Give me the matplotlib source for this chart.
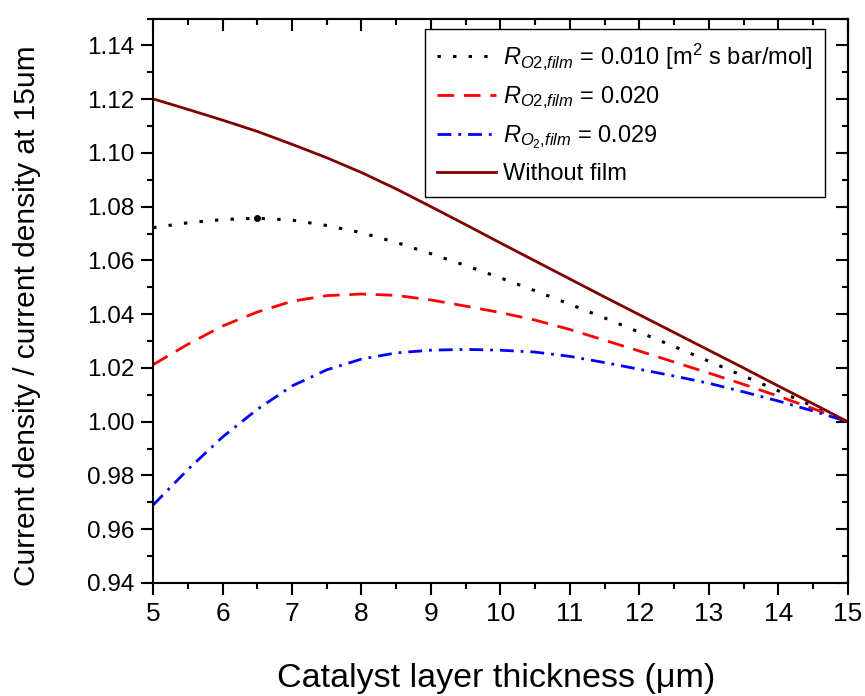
import matplotlib
matplotlib.use('Agg')
import matplotlib.pyplot as plt
from matplotlib.ticker import MultipleLocator, FormatStrFormatter

plt.rcParams['font.family'] = ['Liberation Sans', 'DejaVu Sans']
plt.rcParams['mathtext.fontset'] = 'custom'
plt.rcParams['mathtext.rm'] = 'Liberation Sans'
plt.rcParams['mathtext.it'] = 'Liberation Sans:italic'

# catalyst layer thickness (um)
thickness = [5, 5.5, 6, 6.5, 7, 7.5, 8, 8.5, 9, 9.5, 10,
             10.5, 11, 11.5, 12, 12.5, 13, 13.5, 14, 14.5, 15]

# current density normalised by the value at 15 um
r_010 = [1.0722, 1.0740, 1.0752, 1.0757, 1.0750, 1.0730, 1.0703, 1.0667, 1.0625, 1.0581, 1.0535,
         1.0487, 1.0437, 1.0386, 1.0333, 1.0280, 1.0225, 1.0170, 1.0115, 1.0058, 1.0000]
r_020 = [1.0212, 1.0288, 1.0356, 1.0408, 1.0448, 1.0469, 1.0475, 1.0470, 1.0453, 1.0430, 1.0406,
         1.0378, 1.0343, 1.0303, 1.0263, 1.0222, 1.0181, 1.0139, 1.0095, 1.0049, 1.0000]
r_029 = [0.9690, 0.9822, 0.9943, 1.0046, 1.0133, 1.0193, 1.0233, 1.0256, 1.0266, 1.0269, 1.0266,
         1.0259, 1.0243, 1.0220, 1.0195, 1.0170, 1.0143, 1.0111, 1.0077, 1.0040, 1.0000]
no_film = [1.1201, 1.1162, 1.1122, 1.1080, 1.1032, 1.0982, 1.0927, 1.0866, 1.0800, 1.0733, 1.0665,
           1.0598, 1.0531, 1.0464, 1.0398, 1.0332, 1.0266, 1.0200, 1.0133, 1.0067, 1.0000]

labels = [r'$R_{\mathit{O2{,}film}}$ = 0.010 [m$^2$ s bar/mol]',
          r'$R_{\mathit{O2{,}film}}$ = 0.020',
          r'$R_{\mathit{O_2{,}film}}$ = 0.029',
          'Without film']

fig = plt.figure(figsize=(8.65, 6.96), dpi=100)
ax = fig.add_axes([0.177, 0.1624, 0.803, 0.811])

ax.plot(thickness, r_010, color='black', lw=2.2, linestyle=(0, (1.1, 4.0)), label=labels[0])
ax.plot(thickness[3], r_010[3], 'o', color='black', ms=4)
ax.plot(thickness, r_020, color='red', lw=2.0, linestyle=(0, (6, 3.5)), label=labels[1])
ax.plot(thickness, r_029, color='blue', lw=2.0, linestyle=(0, (5, 2.5, 1, 2.5)), label=labels[2])
ax.plot(thickness, no_film, color='#800000', lw=2.0, label=labels[3])

ax.set_xlim(5, 15)
ax.set_ylim(0.94, 1.15)
ax.set_xticks(range(5, 16))
ax.set_yticks([0.94, 0.96, 0.98, 1.00, 1.02, 1.04, 1.06, 1.08, 1.10, 1.12, 1.14])
ax.xaxis.set_minor_locator(MultipleLocator(0.5))
ax.yaxis.set_minor_locator(MultipleLocator(0.01))
ax.yaxis.set_major_formatter(FormatStrFormatter('%.2f'))

for sp in ax.spines.values():
    sp.set_linewidth(1.5)

ax.tick_params(which='major', direction='out', length=8.5, width=1.5, pad=5)
ax.tick_params(which='minor', direction='out', length=4.5, width=1.5)
ax.tick_params(axis='x', labelsize=19)
ax.tick_params(axis='y', labelsize=17.5)

# inward ticks on the top and right edges
top = ax.secondary_xaxis('top')
top.set_xticks(range(5, 16))
top.xaxis.set_minor_locator(MultipleLocator(0.5))
top.tick_params(which='major', direction='in', length=8.5, width=1.5, labeltop=False)
top.tick_params(which='minor', direction='in', length=4.5, width=1.5)
top.spines['top'].set_linewidth(1.5)

right = ax.secondary_yaxis('right')
right.set_yticks([0.94, 0.96, 0.98, 1.00, 1.02, 1.04, 1.06, 1.08, 1.10, 1.12, 1.14])
right.yaxis.set_minor_locator(MultipleLocator(0.01))
right.tick_params(which='major', direction='in', length=8.5, width=1.5, labelright=False)
right.tick_params(which='minor', direction='in', length=4.5, width=1.5)
right.spines['right'].set_linewidth(1.5)

ax.set_xlabel('Catalyst layer thickness (\u03bcm)', fontsize=24.5)
ax.set_ylabel('Current density / current density at 15um', fontsize=21.5)
ax.xaxis.set_label_coords(0.4935, -0.141)
ax.yaxis.set_label_coords(-0.161, 0.473)

leg = ax.legend(loc='upper right', bbox_to_anchor=(0.967, 0.981), borderaxespad=0,
                fontsize=17, handlelength=2.5, handletextpad=0.3, labelspacing=0.52,
                borderpad=0.5, fancybox=False, framealpha=1)
leg.get_frame().set_edgecolor('black')
leg.get_frame().set_linewidth(1.0)

fig.savefig('out.png', dpi=100)
